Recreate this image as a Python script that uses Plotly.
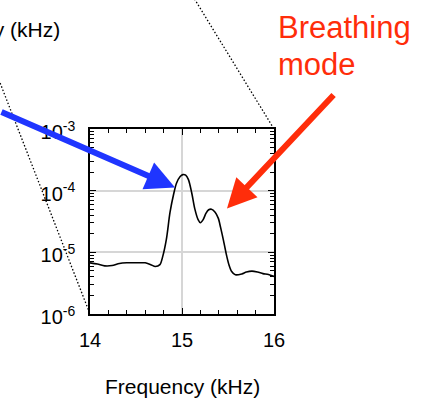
import plotly.graph_objects as go

# Spectrum around the 15 kHz mode (frequency in kHz, power spectral density)
freq_khz = [14.00, 14.08, 14.16, 14.24, 14.32, 14.40, 14.50, 14.60, 14.66, 14.71,
            14.76, 14.79, 14.83, 14.87, 14.91, 14.94, 14.98, 15.01, 15.04, 15.07,
            15.105, 15.14, 15.175, 15.20, 15.23, 15.26, 15.29, 15.32, 15.36, 15.395,
            15.42, 15.45, 15.48, 15.51, 15.54, 15.58, 15.65, 15.70, 15.76, 15.82,
            15.88, 15.94, 16.00]
psd = [6.76e-6, 6.46e-6, 6.03e-6, 6.10e-6, 6.61e-6, 6.76e-6, 6.76e-6, 6.76e-6, 6.31e-6, 5.89e-6,
       6.31e-6, 8.51e-6, 1.62e-5, 4.47e-5, 8.91e-5, 1.32e-4, 1.70e-4, 1.82e-4, 1.78e-4, 1.51e-4,
       9.33e-5, 5.01e-5, 3.39e-5, 3.02e-5, 3.39e-5, 4.27e-5, 4.90e-5, 5.01e-5, 4.47e-5, 3.55e-5,
       2.51e-5, 1.58e-5, 9.55e-6, 6.31e-6, 4.90e-6, 4.32e-6, 4.47e-6, 4.79e-6, 4.95e-6, 4.79e-6,
       4.52e-6, 4.37e-6, 4.07e-6]

x_ticks = [14, 15, 16]
y_ticks = [1e-6, 1e-5, 1e-4, 1e-3]
y_ticktext = ["10<sup>-6</sup>", "10<sup>-5</sup>", "10<sup>-4</sup>", "10<sup>-3</sup>"]
x_title = "Frequency (kHz)"

FONT = "Liberation Sans, Arial, sans-serif"
BLUE = "#1f35ff"
RED = "#ff2d0a"

W, H = 423, 401
L, R, T, B = 90, 149, 129, 87
PW, PH = W - L - R, H - T - B


def px_to_paper(px, py):
    return (px - L) / PW, (H - B - py) / PH


fig = go.Figure()
fig.add_trace(go.Scatter(
    x=freq_khz, y=psd, mode="lines",
    line=dict(color="black", width=1.6, shape="spline", smoothing=0.8),
    showlegend=False, hoverinfo="skip",
))

axis_common = dict(
    showline=True, linecolor="black", linewidth=1.5, mirror="allticks",
    ticks="inside", tickcolor="black", tickwidth=1.3, ticklen=6,
    showgrid=True, gridcolor="#d6d6d6", gridwidth=1.5, zeroline=False,
    tickfont=dict(family=FONT, size=20, color="black"), automargin=False,
)

fig.update_xaxes(
    range=[14, 16], tickmode="array", tickvals=x_ticks, ticklabelstandoff=7,
    minor=dict(ticks="inside", ticklen=4, tickwidth=1.1, tickcolor="black", dtick=0.2, showgrid=False),
    **axis_common,
)
fig.update_yaxes(
    type="log", range=[-6, -3], tickmode="array", tickvals=y_ticks, ticktext=y_ticktext,
    ticklabelstandoff=9, ticklabelshift=3,
    minor=dict(ticks="inside", ticklen=4, tickwidth=1.1, tickcolor="black", dtick="D1", showgrid=False),
    **axis_common,
)

# x-axis title
tx, ty = px_to_paper(182, 386)
fig.add_annotation(x=tx, y=ty, xref="paper", yref="paper", text=x_title, showarrow=False,
                   xanchor="center", yanchor="middle", font=dict(family=FONT, size=21, color="black"))

# Dotted guide lines connecting the inset to the parent plot
x0, y0 = px_to_paper(-10, 57)
fig.add_shape(type="line", xref="paper", yref="paper", x0=x0, y0=y0, x1=0, y1=0,
              line=dict(color="black", width=1.3, dash="1.5px,2px"))
x0, y0 = px_to_paper(189, -10)
fig.add_shape(type="line", xref="paper", yref="paper", x0=x0, y0=y0, x1=1, y1=1,
              line=dict(color="black", width=1.3, dash="1.5px,2px"))

# Arrows pointing at the two peaks
fig.add_annotation(x=14.924, y=-3.948, xref="x", yref="y", text="", showarrow=True,
                   ax=-195, ay=-76, arrowcolor=BLUE, arrowwidth=6, arrowhead=2, arrowsize=0.97,
                   standoff=0)
fig.add_annotation(x=15.489, y=-4.288, xref="x", yref="y", text="", showarrow=True,
                   ax=108, ay=-115, arrowcolor=RED, arrowwidth=6, arrowhead=2, arrowsize=0.97,
                   standoff=0)

# Labels
ax_, ay_ = px_to_paper(276, 27)
fig.add_annotation(x=ax_, y=ay_, xref="paper", yref="paper", text="Breathing", showarrow=False,
                   xanchor="left", yanchor="middle", font=dict(family=FONT, size=31, color=RED))
ax_, ay_ = px_to_paper(276, 64)
fig.add_annotation(x=ax_, y=ay_, xref="paper", yref="paper", text="mode", showarrow=False,
                   xanchor="left", yanchor="middle", font=dict(family=FONT, size=31, color=RED))
ax_, ay_ = px_to_paper(62, 30)
fig.add_annotation(x=ax_, y=ay_, xref="paper", yref="paper", text=x_title, showarrow=False,
                   xanchor="right", yanchor="middle", font=dict(family=FONT, size=21, color="black"))

fig.update_layout(
    width=W, height=H, autosize=False,
    margin=dict(l=L, r=R, t=T, b=B, pad=0),
    paper_bgcolor="white", plot_bgcolor="white",
    font=dict(family=FONT, color="black"),
)

fig.write_html("out.html")
